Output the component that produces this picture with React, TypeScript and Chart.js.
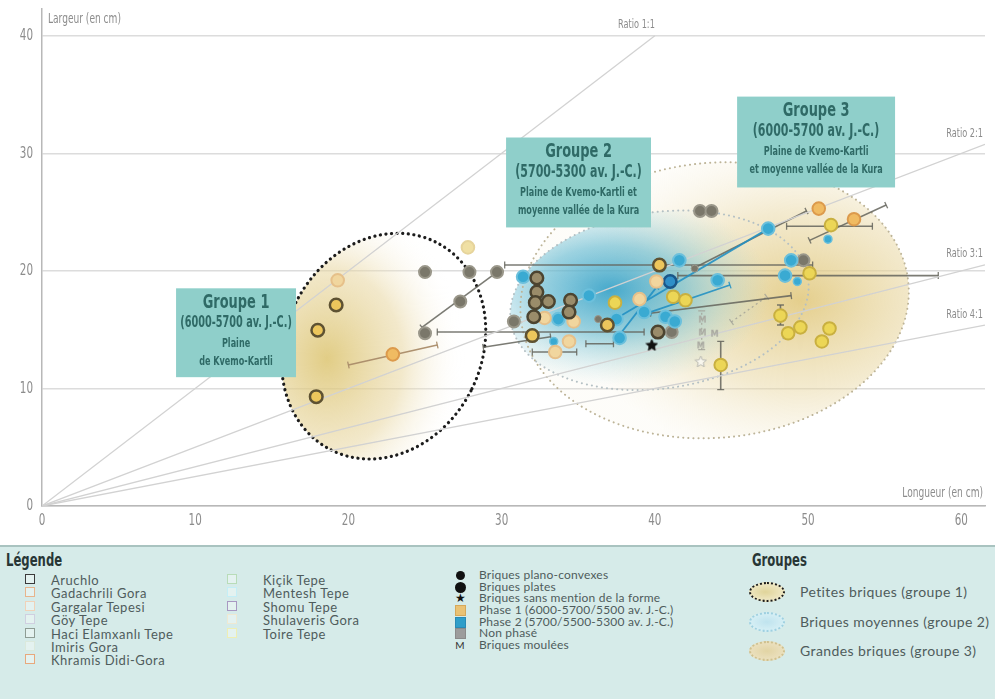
import React, { useEffect, useRef } from "react";
import { Chart, registerables } from "chart.js";
Chart.register(...registerables);

const NARROW = "'Liberation Sans Narrow','DejaVu Sans Condensed','Arial Narrow','Liberation Sans',sans-serif";
const UI = "Lato,'Noto Sans',sans-serif";

// ---------- axes ----------
const X_MAX = 61.55;
const Y_MAX = 42.3;
const xTickValues = [0, 10, 20, 30, 40, 50, 60];
const yTickValues = [0, 10, 20, 30, 40];

// ---------- ratio lines (length : width) ----------
const ratioValues = [1, 2, 3, 4];
const ratioLabels = ["Ratio 1:1", "Ratio 2:1", "Ratio 3:1", "Ratio 4:1"];
const ratioEndX = [40, 61.55, 61.55, 61.55];

// ---------- points [length, width] ----------
type P = [number, number];
const aruchloPhase1: P[] = [[19.2, 17.1], [18.0, 14.95], [17.9, 9.3], [32.0, 14.5], [36.9, 15.4], [40.3, 20.5]];
const aruchloUnphased: P[] = [[32.3, 19.4], [32.3, 18.2], [32.2, 17.3], [33.05, 17.4], [32.1, 16.1], [34.5, 17.5], [34.4, 16.5], [40.2, 14.8]];
const palePeach: P[] = [[19.3, 19.2], [32.8, 16.0], [34.7, 15.7], [34.4, 14.0], [33.5, 13.1], [40.1, 19.1], [39.0, 17.6]];
const orangePhase1: P[] = [[22.9, 12.9], [50.7, 25.3], [53.0, 24.4]];
const yellowPhase1: P[] = [[37.4, 17.3], [41.2, 17.8], [42.0, 17.5], [51.5, 23.9], [50.1, 19.8], [48.2, 16.2], [48.7, 14.7], [49.5, 15.2], [51.4, 15.1], [50.9, 14.0], [44.3, 12.0]];
const paleYellow: P[] = [[27.8, 22.0]];
const phase2: P[] = [[31.4, 19.5], [33.7, 15.9], [35.7, 17.9], [37.7, 14.3], [37.5, 15.9], [39.3, 16.5], [40.7, 16.1], [41.3, 15.7], [41.6, 20.9], [44.1, 19.2], [47.4, 23.6], [48.9, 20.9], [48.5, 19.6]];
const phase2Small: P[] = [[33.4, 14.0], [49.3, 19.1], [51.3, 22.7]];
const phase2Dark: P[] = [[41.0, 19.1]];
const unphased: P[] = [[25.0, 19.9], [27.9, 19.9], [27.3, 17.4], [25.0, 14.7], [29.7, 19.9], [30.8, 15.7], [41.1, 14.8], [42.95, 25.1], [43.7, 25.1], [49.7, 20.9]];
const unphasedSmall: P[] = [[42.6, 20.2], [36.3, 15.9]];
const starBlack: P[] = [[39.8, 13.7]];
const mouldedPale: P[] = [[43.1, 15.9], [43.1, 14.8], [43.9, 14.7], [43.0, 13.7]];
const starPale: P[] = [[43.0, 12.3]];

// ---------- ranges [x1, y1, x2, y2] ----------
const grayRanges: number[][] = [
  [24.8, 15.2, 29.7, 19.9],
  [25.8, 14.8, 39.3, 14.8],
  [28.8, 13.5, 33.2, 14.4],
  [30.2, 20.5, 50.3, 20.5],
  [41.5, 19.6, 58.5, 19.6],
  [39.7, 16.4, 48.9, 17.9],
  [42.5, 20.2, 49.9, 25.1],
  [50.1, 22.6, 55.1, 25.6],
  [48.6, 23.8, 54.2, 23.8],
  [32.0, 13.1, 34.9, 13.1],
  [35.5, 13.8, 37.3, 13.8],
  [44.3, 9.9, 44.3, 14.0],
  [48.2, 15.4, 48.2, 17.1],
];
const orangeRanges: number[][] = [[20.0, 12.0, 25.8, 13.7]];
const blueRanges: number[][] = [
  [39.7, 16.5, 44.9, 18.8],
  [36.9, 15.5, 47.4, 23.6],
  [37.6, 14.4, 40.1, 18.6],
];
const paleRanges: number[][] = [
  [43.06, 13.3, 43.06, 16.6],
  [45.0, 15.66, 47.3, 17.8],
];

// ---------- group zones (data units) ----------
const groupZones = [
  { cx: 22.3, cy: 13.6, rx: 6.4, ry: 9.9, rot: 27, gx: 18.6, gy: 12.5, gr: 9.0, gk: 1.2,
    stops: [[0, "rgba(220,196,112,0.85)"], [0.55, "rgba(232,214,160,0.55)"], [1, "rgba(255,255,255,0)"]],
    stroke: "#1c1c1c", lw: 3.2, dash: [0.1, 5.5] },
  { cx: 43.9, cy: 17.5, rx: 12.7, ry: 11.7, rot: -5, gx: 49.5, gy: 17.5, gr: 15.0, gk: 0.7,
    stops: [[0, "rgba(224,198,120,0.85)"], [0.55, "rgba(232,214,160,0.5)"], [1, "rgba(245,238,215,0.15)"]],
    stroke: "#bdb498", lw: 2, dash: [0.1, 5] },
  { cx: 40.3, cy: 17.5, rx: 9.8, ry: 7.5, rot: -8, gx: 37.1, gy: 18.4, gr: 10.5, gk: 0.6,
    stops: [[0, "rgba(50,160,200,0.9)"], [0.45, "rgba(90,182,208,0.6)"], [1, "rgba(170,215,222,0)"]],
    stroke: "#b4c0c4", lw: 2, dash: [0.1, 5] },
];

// ---------- text boxes ----------
const boxRects = [
  [8.75, 18.52, 16.58, 10.96],
  [30.29, 31.35, 39.75, 23.7],
  [45.37, 34.83, 55.68, 27.1],
];
const boxTexts = [
  ["Groupe 1", "(6000-5700 av. J.-C.)", "Plaine", "de Kvemo-Kartli"],
  ["Groupe 2", "(5700-5300 av. J.-C.)", "Plaine de Kvemo-Kartli et", "moyenne vallée de la Kura"],
  ["Groupe 3", "(6000-5700 av. J.-C.)", "Plaine de Kvemo-Kartli", "et moyenne vallée de la Kura"],
];

// ---------- legend ----------
const sitesCol1 = ["Aruchlo", "Gadachrili Gora", "Gargalar Tepesi", "Göy Tepe", "Haci Elamxanlı Tepe", "Imiris Gora", "Khramis Didi-Gora"];
const sitesCol1Colors = ["#3a3a3a", "#e8b48c", "#f0d2b8", "#cfcfe0", "#8e9c94", "#dbe9dc", "#e8a87c"];
const sitesCol2 = ["Kiçik Tepe", "Mentesh Tepe", "Shomu Tepe", "Shulaveris Gora", "Toire Tepe"];
const sitesCol2Colors = ["#b8dcb8", "#c4eef6", "#a898c2", "#efe9d2", "#eeeeb4"];
const symbolLabels = ["Briques plano-convexes", "Briques plates", "Briques sans mention de la forme", "Phase 1 (6000-5700/5500 av. J.-C.)", "Phase 2 (5700/5500-5300 av. J.-C.)", "Non phasé", "Briques moulées"];
const groupLegendLabels = ["Petites briques (groupe 1)", "Briques moyennes (groupe 2)", "Grandes briques (groupe 3)"];

const toXY = (arr: P[]) => arr.map(([x, y]) => ({ x, y }));

function makeStar(size: number, fill: string, stroke: string) {
  const c = document.createElement("canvas");
  c.width = size; c.height = size;
  const g = c.getContext("2d")!;
  const cx = size / 2, cy = size / 2 + 0.5, R = size / 2 - 0.5, r = R * 0.45;
  g.beginPath();
  for (let i = 0; i < 10; i++) {
    const a = -Math.PI / 2 + (i * Math.PI) / 5;
    const rr = i % 2 === 0 ? R : r;
    g.lineTo(cx + rr * Math.cos(a), cy + rr * Math.sin(a));
  }
  g.closePath();
  g.fillStyle = fill; g.fill();
  g.strokeStyle = stroke; g.lineWidth = 1; g.stroke();
  return c;
}
function makeM(size: number, color: string) {
  const c = document.createElement("canvas");
  c.width = size; c.height = size;
  const g = c.getContext("2d")!;
  g.fillStyle = color;
  g.font = `bold ${size - 2}px ${NARROW}`;
  g.textAlign = "center"; g.textBaseline = "middle";
  g.fillText("M", size / 2, size / 2 + 1);
  return c;
}

// condensed text: scale horizontally
function condText(ctx: CanvasRenderingContext2D, text: string, x: number, y: number, align: "left" | "right" | "center", sx: number) {
  ctx.save();
  ctx.translate(x, y);
  ctx.scale(sx, 1);
  ctx.textAlign = align;
  ctx.textBaseline = "middle";
  ctx.fillText(text, 0, 0);
  ctx.restore();
}

function ellPx(e: any, xs: any, ys: any) {
  const cx = xs.getPixelForValue(e.cx), cy = ys.getPixelForValue(e.cy);
  const rx = xs.getPixelForValue(e.cx + e.rx) - cx;
  const ry = cy - ys.getPixelForValue(e.cy + e.ry);
  return { cx, cy, rx, ry, rot: (e.rot * Math.PI) / 180 };
}

function drawSeg(ctx: CanvasRenderingContext2D, xs: any, ys: any, s: number[], color: string, lw: number, dashed = false) {
  const x1 = xs.getPixelForValue(s[0]), y1 = ys.getPixelForValue(s[1]);
  const x2 = xs.getPixelForValue(s[2]), y2 = ys.getPixelForValue(s[3]);
  ctx.strokeStyle = color; ctx.lineWidth = lw;
  ctx.setLineDash(dashed ? [2, 3] : []);
  ctx.beginPath(); ctx.moveTo(x1, y1); ctx.lineTo(x2, y2); ctx.stroke();
  ctx.setLineDash([]);
  const len = Math.hypot(x2 - x1, y2 - y1) || 1;
  const nx = -(y2 - y1) / len, ny = (x2 - x1) / len;
  const c = 3.5;
  ctx.lineWidth = 1.3;
  for (const [px, py] of [[x1, y1], [x2, y2]]) {
    ctx.beginPath(); ctx.moveTo(px - nx * c, py - ny * c); ctx.lineTo(px + nx * c, py + ny * c); ctx.stroke();
  }
}

const annotPlugin = {
  id: "annot",
  beforeDatasetsDraw(chart: any) {
    const { ctx, chartArea, scales } = chart;
    const xs = scales.x, ys = scales.y;
    ctx.save();
    ctx.beginPath(); ctx.rect(chartArea.left, chartArea.top, chartArea.width, chartArea.height); ctx.clip();
    for (const z of groupZones) {
      const e = ellPx(z, xs, ys);
      ctx.save();
      ctx.beginPath(); ctx.ellipse(e.cx, e.cy, e.rx, e.ry, e.rot, 0, Math.PI * 2); ctx.clip();
      const gx = xs.getPixelForValue(z.gx), gy = ys.getPixelForValue(z.gy);
      const gr = xs.getPixelForValue(z.gx + z.gr) - gx;
      ctx.translate(gx, gy); ctx.scale(1, z.gk);
      const grad = ctx.createRadialGradient(0, 0, 0, 0, 0, gr);
      for (const [o, c] of z.stops) grad.addColorStop(o as number, c as string);
      ctx.fillStyle = grad;
      ctx.fillRect(-1000, -1000, 2000, 2000);
      ctx.restore();
    }
    for (const z of groupZones) {
      const e = ellPx(z, xs, ys);
      ctx.strokeStyle = z.stroke; ctx.lineWidth = z.lw; ctx.lineCap = "round";
      ctx.setLineDash(z.dash);
      ctx.beginPath(); ctx.ellipse(e.cx, e.cy, e.rx, e.ry, e.rot, 0, Math.PI * 2); ctx.stroke();
    }
    ctx.setLineDash([]); ctx.lineCap = "butt";
    for (const s of paleRanges) drawSeg(ctx, xs, ys, s, "rgba(160,160,150,0.8)", 1.3, true);
    for (const s of grayRanges) drawSeg(ctx, xs, ys, s, "rgba(100,100,92,0.85)", 1.6);
    for (const s of orangeRanges) drawSeg(ctx, xs, ys, s, "rgba(170,140,105,0.95)", 1.6);
    for (const s of blueRanges) drawSeg(ctx, xs, ys, s, "rgba(35,145,195,0.9)", 1.8);
    ctx.restore();
  },
  afterDatasetsDraw(chart: any) {
    const { ctx, chartArea, scales } = chart;
    const xs = scales.x, ys = scales.y;
    ctx.save();
    // tick labels (from the library's ticks), condensed
    ctx.fillStyle = "#8c8c8c";
    ctx.font = `16px ${NARROW}`;
    for (const t of xs.ticks) condText(ctx, String(t.value), xs.getPixelForValue(t.value), chartArea.bottom + 15, "center", 0.72);
    for (const t of ys.ticks) condText(ctx, String(t.value), chartArea.left - 9, ys.getPixelForValue(t.value), "right", 0.72);
    // axis titles
    ctx.font = `14px ${NARROW}`;
    condText(ctx, "Largeur (en cm)", chartArea.left + 6, chartArea.top + 11, "left", 0.72);
    condText(ctx, "Longueur (en cm)", chartArea.right - 2, chartArea.bottom - 13, "right", 0.72);
    // ratio labels
    ctx.font = `13px ${NARROW}`;
    ratioValues.forEach((r, i) => {
      const ex = ratioEndX[i];
      const px = Math.min(xs.getPixelForValue(ex), chartArea.right - 2);
      const py = ys.getPixelForValue(ex / r) - 11;
      condText(ctx, ratioLabels[i], px, py, "right", 0.7);
    });
    // text boxes
    const offsets = [14, 35, 55, 73];
    const sizes = [20, 17, 12.5, 12.5];
    const sx = 0.72;
    boxRects.forEach((b, i) => {
      const l = xs.getPixelForValue(b[0]), t = ys.getPixelForValue(b[1]);
      const r = xs.getPixelForValue(b[2]), bt = ys.getPixelForValue(b[3]);
      ctx.fillStyle = "#8fcfca";
      ctx.fillRect(l, t, r - l, bt - t);
      ctx.fillStyle = "#2f6a66";
      boxTexts[i].forEach((line, j) => {
        let fs = sizes[j];
        const wt = j === 0 ? "bold" : j === 1 ? "bold" : "bold";
        ctx.font = `${wt} ${fs}px ${NARROW}`;
        while (ctx.measureText(line).width * sx > r - l - 6 && fs > 7) {
          fs -= 0.5; ctx.font = `${wt} ${fs}px ${NARROW}`;
        }
        condText(ctx, line, (l + r) / 2, t + offsets[j], "center", sx);
      });
    });
    ctx.restore();
  },
};

function LegendSquare({ color }: { color: string }) {
  return <span style={{ display: "inline-block", width: 8, height: 8, border: `1.6px solid ${color}`, background: "rgba(255,255,255,0.35)", boxSizing: "content-box" }} />;
}

export default function App() {
  const ref = useRef<HTMLCanvasElement>(null);
  useEffect(() => {
    const canvas = ref.current!;
    const star = makeStar(13, "#111", "#111");
    const starP = makeStar(13, "rgba(255,255,255,0.6)", "#b8b8b0");
    const mP = makeM(11, "#a8a8a0");
    const pt = (data: P[], bg: string, border: string, r: number, bw: number, style: any = "circle") => ({
      type: "scatter" as const, data: toXY(data), pointRadius: r, pointHoverRadius: r,
      pointBackgroundColor: bg, pointBorderColor: border, pointBorderWidth: bw, pointStyle: style, order: 0,
    });
    const ratioSets = ratioValues.map((r, i) => ({
      type: "line" as const,
      data: [{ x: 0, y: 0 }, { x: ratioEndX[i], y: ratioEndX[i] / r }],
      borderColor: "#d2d2d2", borderWidth: 1.3, pointRadius: 0, order: 10,
    }));
    const chart = new Chart(canvas, {
      type: "scatter",
      data: {
        datasets: [
          pt(aruchloUnphased, "#9a8c6a", "#4c4430", 6.3, 2.5),
          pt(aruchloPhase1, "#ecc65c", "#5e5232", 6.3, 2.5),
          pt(palePeach, "#f1d69e", "#e6c08a", 6.3, 2),
          pt(orangePhase1, "#f0bb62", "#dc9a4c", 6.3, 2),
          pt(yellowPhase1, "#ecd656", "#c9b040", 6.3, 2),
          pt(paleYellow, "#f0e0a4", "#e6d49c", 6.3, 2),
          pt(phase2, "#3aaad2", "#6cc0dc", 6.3, 2),
          pt(phase2Small, "#3aaad2", "#6cc0dc", 4, 1.5),
          pt(phase2Dark, "#2f8fc8", "#1a5688", 6.3, 2.5),
          pt(unphased, "#7a776a", "#9a978a", 6, 2),
          pt(unphasedSmall, "#7a776a", "#9a978a", 3.5, 1),
          pt(starBlack, "#111", "#111", 6.5, 0, star),
          pt(mouldedPale, "#aaa", "#aaa", 5.5, 0, mP),
          pt(starPale, "#ccc", "#bbb", 6.5, 0, starP),
          ...ratioSets,
        ] as any,
      },
      options: {
        animation: false,
        responsive: false,
        events: [],
        layout: { padding: { top: 8, right: 10, left: 0, bottom: 0 } },
        plugins: { legend: { display: false }, tooltip: { enabled: false } },
        scales: {
          x: {
            type: "linear", min: 0, max: X_MAX,
            afterBuildTicks: (s: any) => { s.ticks = xTickValues.map((v) => ({ value: v })); },
            afterFit: (s: any) => { s.height = 39; },
            grid: { display: false, drawTicks: false },
            border: { color: "#b8b8b8", width: 1.5 },
            ticks: { display: false },
          },
          y: {
            type: "linear", min: 0, max: Y_MAX,
            afterBuildTicks: (s: any) => { s.ticks = yTickValues.map((v) => ({ value: v })); },
            afterFit: (s: any) => { s.width = 42; },
            grid: { color: "#dcdcdc", lineWidth: 1.5, drawTicks: false },
            border: { color: "#b8b8b8", width: 1.5 },
            ticks: { display: false },
          },
        },
      } as any,
      plugins: [annotPlugin],
    });
    return () => chart.destroy();
  }, []);

  const col1Rows = [580, 593, 607, 620, 634, 647, 660];
  const col3Rows = [575, 587, 598, 610, 622, 633, 645];
  const grpRows = [592, 622, 651];
  const txt: React.CSSProperties = { position: "absolute", fontFamily: UI, fontSize: 13, color: "#4f5c5c", whiteSpace: "nowrap", lineHeight: "14px", letterSpacing: "0.5px" };
  const symIcons = [
    <span style={{ display: "inline-block", width: 9, height: 9, borderRadius: "50%", background: "#111" }} />,
    <span style={{ display: "inline-block", width: 11, height: 11, borderRadius: "50%", background: "#111" }} />,
    <span style={{ fontSize: 12, color: "#111", lineHeight: "12px" }}>★</span>,
    <span style={{ display: "inline-block", width: 9, height: 9, background: "#eac274", border: "1px solid #d6a85a" }} />,
    <span style={{ display: "inline-block", width: 9, height: 9, background: "#2f9ec9", border: "1px solid #2a8ab4" }} />,
    <span style={{ display: "inline-block", width: 9, height: 9, background: "#9c9c9c", border: "1px solid #8a8a8a" }} />,
    <span style={{ fontSize: 10, color: "#333", fontFamily: UI }}>M</span>,
  ];
  const grpIcons = [
    { bg: "radial-gradient(ellipse at 45% 50%, #e0d49a 0%, #ece4bc 60%, #f2eed6 100%)", border: "2.5px dotted #1c1c1c" },
    { bg: "radial-gradient(ellipse at 50% 50%, #bfe3ee 0%, #d4eef4 70%, #e0f2f4 100%)", border: "2px dotted #9fd0e0" },
    { bg: "radial-gradient(ellipse at 50% 50%, #e2d4a4 0%, #eadfbc 70%, #eee8cf 100%)", border: "2px dotted #cfc08e" },
  ];
  const head: React.CSSProperties = { ...txt, fontFamily: NARROW, fontWeight: 700, fontSize: 18, color: "#283636", lineHeight: "18px", letterSpacing: "0px", transform: "scaleX(0.72)", transformOrigin: "left center" };

  return (
    <div style={{ position: "fixed", left: 0, top: 0, width: 995, height: 699, background: "#fff", overflow: "hidden" }}>
      <canvas ref={ref} width={995} height={545} style={{ position: "absolute", left: 0, top: 0, width: 995, height: 545 }} />
      <div style={{ position: "absolute", left: 0, top: 545, width: 995, height: 154, background: "#d6ebe9", borderTop: "2px solid #a9c3c0", boxSizing: "border-box" }} />
      <div style={{ ...head, left: 6, top: 551 }}>Légende</div>
      <div style={{ ...head, left: 752, top: 551 }}>Groupes</div>
      {sitesCol1.map((s, i) => (
        <React.Fragment key={"a" + i}>
          <div style={{ position: "absolute", left: 25, top: col1Rows[i] - 6, lineHeight: 0 }}><LegendSquare color={sitesCol1Colors[i]} /></div>
          <div style={{ ...txt, left: 51, top: col1Rows[i] - 7 }}>{s}</div>
        </React.Fragment>
      ))}
      {sitesCol2.map((s, i) => (
        <React.Fragment key={"b" + i}>
          <div style={{ position: "absolute", left: 227, top: col1Rows[i] - 6, lineHeight: 0 }}><LegendSquare color={sitesCol2Colors[i]} /></div>
          <div style={{ ...txt, left: 263, top: col1Rows[i] - 7 }}>{s}</div>
        </React.Fragment>
      ))}
      {symbolLabels.map((s, i) => (
        <React.Fragment key={"c" + i}>
          <div style={{ position: "absolute", left: 452, width: 16, top: col3Rows[i] - 7, height: 14, display: "flex", alignItems: "center", justifyContent: "center" }}>{symIcons[i]}</div>
          <div style={{ ...txt, left: 479, top: col3Rows[i] - 7, fontSize: 12, letterSpacing: "0.2px" }}>{s}</div>
        </React.Fragment>
      ))}
      {groupLegendLabels.map((s, i) => (
        <React.Fragment key={"d" + i}>
          <div style={{ position: "absolute", left: 749, top: grpRows[i] - 10, width: 36, height: 20, borderRadius: "50%", background: grpIcons[i].bg, border: grpIcons[i].border, boxSizing: "border-box" }} />
          <div style={{ ...txt, left: 800, top: grpRows[i] - 8, fontSize: 14, letterSpacing: "0.4px", lineHeight: "16px" }}>{s}</div>
        </React.Fragment>
      ))}
    </div>
  );
}
